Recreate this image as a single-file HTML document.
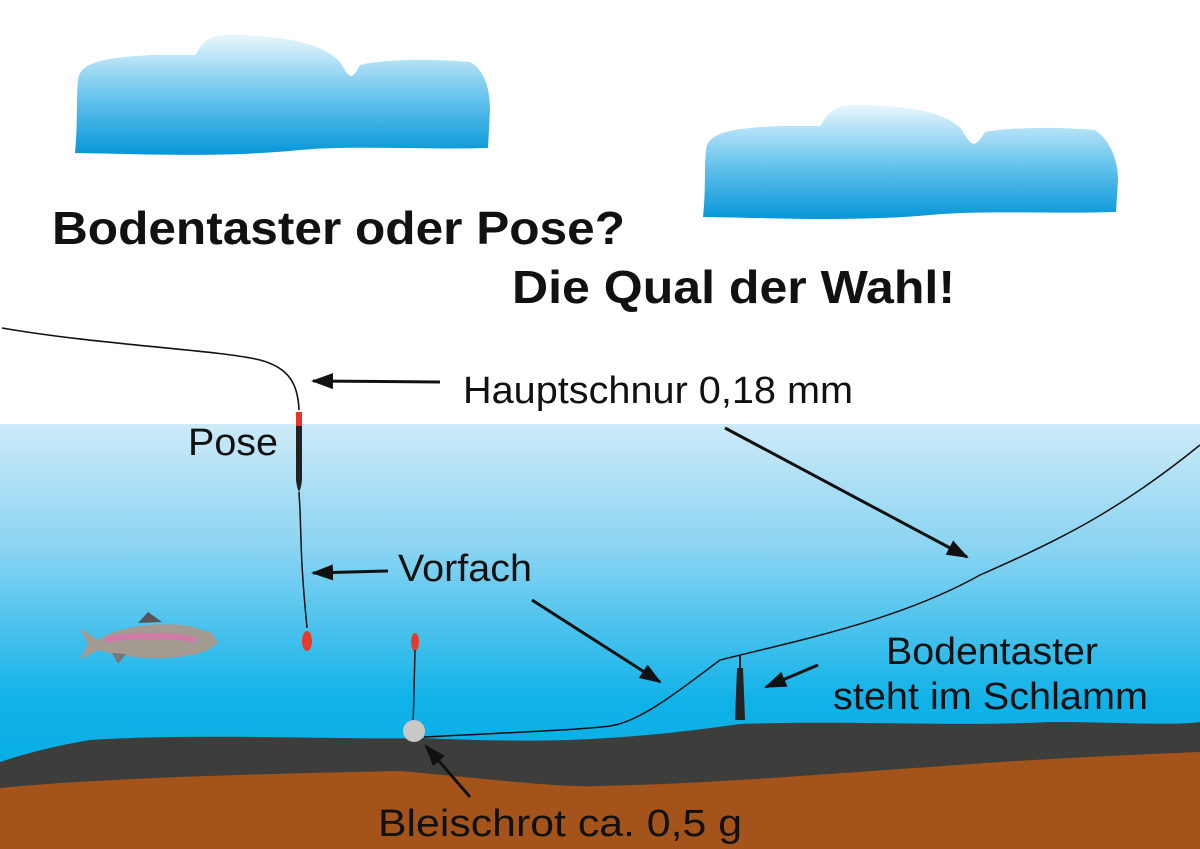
<!DOCTYPE html>
<html><head><meta charset="utf-8"><style>
html,body{margin:0;padding:0;background:#fff}
svg{display:block}
text{font-family:"Liberation Sans",Arial,sans-serif;fill:#111}
</style></head><body>
<svg width="1200" height="849" viewBox="0 0 1200 849" xmlns="http://www.w3.org/2000/svg">
<defs>
<linearGradient id="w" x1="0" y1="0" x2="0" y2="1">
<stop offset="0" stop-color="#cdeaf8"/><stop offset="0.3" stop-color="#88d3f2"/><stop offset="0.65" stop-color="#10b2e8"/><stop offset="1" stop-color="#00a9e4"/></linearGradient>
<linearGradient id="c" x1="0" y1="0" x2="0" y2="1">
<stop offset="0" stop-color="#e8f6fc"/><stop offset="0.5" stop-color="#6cc6ee"/><stop offset="1" stop-color="#0596d8"/></linearGradient>
<marker id="a" markerWidth="22" markerHeight="16" refX="20" refY="8" orient="auto" markerUnits="userSpaceOnUse" viewBox="0 0 22 16"><path d="M0,0 L22,8 L0,16z" fill="#111"/></marker>
</defs>
<rect x="0" y="424" width="1200" height="425" fill="url(#w)"/>
<path d="M0,762 C30,752 60,745 90,740 C200,733 350,740 420,738 C520,742 600,744 740,724 C850,720 950,727 1050,722 C1120,722 1170,726 1200,722 L1200,849 L0,849Z" fill="#3d3d3b"/>
<path d="M0,788 C80,780 200,775 400,771 C480,778 560,788 600,786 C700,784 800,776 1000,762 C1100,756 1150,754 1200,752 L1200,849 L0,849Z" fill="#a4541a"/>
<path d="M78,80 C80,60 110,58 150,55 L195,55 C205,40 210,35 230,35 C270,35 320,40 340,62 C350,80 352,80 360,65 C380,60 420,58 470,62 C485,70 490,90 490,110 L488,148 C420,150 350,145 300,150 C220,158 150,154 75,153 C78,120 76,100 78,80Z" fill="url(#c)"/>
<path d="M706,150 C708,130 740,128 780,126 L820,126 C830,110 836,105 856,105 C900,105 945,110 962,130 C972,148 975,148 985,132 C1005,128 1050,126 1095,130 C1110,140 1118,160 1118,180 L1116,212 C1050,214 980,210 930,215 C850,222 780,218 703,217 C706,190 704,170 706,150Z" fill="url(#c)"/>
<text x="52" y="244" font-size="46" font-weight="bold" textLength="573" lengthAdjust="spacingAndGlyphs">Bodentaster oder Pose?</text>
<text x="512" y="303" font-size="46" font-weight="bold" textLength="443" lengthAdjust="spacingAndGlyphs">Die Qual der Wahl!</text>
<path d="M2,328 C100,345 220,350 260,360 C290,368 298,385 299,410" stroke="#111" stroke-width="1.6" fill="none"/>
<rect x="296" y="412" width="6" height="14" fill="#e8322a"/>
<path d="M296,426 L302,426 L302,480 C301,488 300,490 299,492 C298,490 297,488 296,480Z" fill="#222"/>
<path d="M299,492 L300,510 L301,540 C302,580 305,605 307,628" stroke="#111" stroke-width="1.5" fill="none"/>
<ellipse cx="307" cy="641" rx="5" ry="10" fill="#e63a2c"/>
<ellipse cx="415" cy="642" rx="4" ry="9" fill="#e63a2c"/>
<path d="M415,650 L413,730" stroke="#111" stroke-width="1.4"/>
<circle cx="414" cy="731" r="11" fill="#c8c8c8"/>
<path d="M424,737 C500,733 580,730 610,726 C640,722 680,690 720,660 C800,640 900,620 980,575 C1060,540 1120,510 1200,445" stroke="#111" stroke-width="1.5" fill="none"/>
<path d="M737,668 L743,668 L745,720 L735,720Z" fill="#222"/>
<line x1="740" y1="655" x2="740" y2="668" stroke="#222" stroke-width="2"/>
<g>
<path d="M80,628 L98,640 C120,625 160,622 190,626 L212,633 L218,643 L208,650 C180,662 130,660 98,650 L80,660 L88,644Z" fill="#a39a92"/>
<path d="M105,640 C130,635 170,634 195,640" stroke="#d07aa8" stroke-width="6" fill="none"/>
<path d="M138,623 L148,612 L162,622Z" fill="#555"/>
<path d="M112,653 L118,664 L126,654Z" fill="#777"/>
</g>
<g stroke="#111" stroke-width="3" fill="none" marker-end="url(#a)">
<line x1="440" y1="382" x2="313" y2="381"/>
<line x1="388" y1="571" x2="313" y2="573"/>
<line x1="725" y1="428" x2="967" y2="557"/>
<line x1="532" y1="600" x2="660" y2="682"/>
<line x1="818" y1="665" x2="766" y2="687"/>
<line x1="470" y1="797" x2="426" y2="746"/>
</g>
<g font-size="38">
<text x="463" y="403" textLength="390" lengthAdjust="spacingAndGlyphs">Hauptschnur 0,18 mm</text>
<text x="188" y="455" textLength="90" lengthAdjust="spacingAndGlyphs">Pose</text>
<text x="398" y="581" textLength="134" lengthAdjust="spacingAndGlyphs">Vorfach</text>
<text x="886" y="664" textLength="212" lengthAdjust="spacingAndGlyphs">Bodentaster</text>
<text x="833" y="709" textLength="315" lengthAdjust="spacingAndGlyphs">steht im Schlamm</text>
<text x="378" y="836" textLength="364" lengthAdjust="spacingAndGlyphs">Bleischrot ca. 0,5 g</text>
</g>
</svg>
</body></html>
